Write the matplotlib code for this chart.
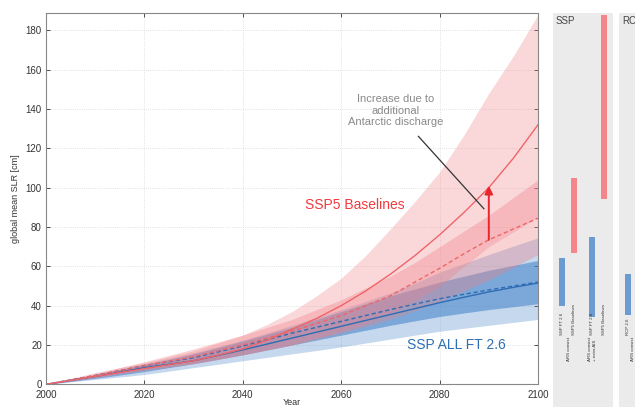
import numpy as np
import matplotlib
matplotlib.use('Agg')
import matplotlib.pyplot as plt

plt.rcParams['font.family'] = ['Liberation Sans', 'DejaVu Sans']

# every 5 years, 2000-2100
years = list(range(2000, 2101, 5))

# SSP5 baselines, with extra Antarctic discharge (solid line + wide band)
ssp5_ais_med = [0, 2, 4, 6, 8, 10, 12, 14.8, 18, 22.5, 28, 33.5, 40, 47.5, 56, 65.5, 76, 87.5, 100, 115, 132]
ssp5_ais_lo = [0, 1.7, 3.5, 5.2, 7, 8.7, 10.5, 12.7, 15, 17.5, 20, 23.5, 27, 31, 36, 42.5, 50, 60, 70, 77.5, 85]
ssp5_ais_hi = [0, 3, 6, 8.5, 11, 14, 17, 21, 25, 30.5, 37, 45, 54, 65.5, 79, 93, 108, 127, 148, 167, 188]
# SSP5 baselines, AR5 consistent (dashed)
ssp5_ars_med = [0, 2.2, 4.5, 7, 9.5, 11.7, 14, 17, 20, 23.5, 27, 31, 35, 40, 45, 52, 59, 66.5, 73.5, 79, 84.5]
ssp5_ars_lo = [0, 1.7, 3.5, 5.5, 7.5, 9, 10.5, 12.7, 15, 17.5, 20, 23, 26, 29.5, 33, 37.5, 42, 47.5, 53, 59.5, 66]
ssp5_ars_hi = [0, 2.7, 5.5, 8.5, 11.5, 14.7, 18, 21.5, 25, 29, 33, 38, 43, 49, 55, 62, 70, 78, 86, 95, 104]
# SSP all FT 2.6, with extra AIS
ft26_ais_med = [0, 2, 4, 6.2, 8.5, 10.2, 12, 14.7, 17.5, 20.5, 23.5, 26.5, 29.5, 32.5, 35.5, 38.5, 41.5, 44.3, 47, 49.3, 51.5]
ft26_ais_lo = [0, 1.2, 2.5, 3.7, 5, 6.7, 8.5, 10.2, 12, 13.7, 15.5, 17.2, 19, 21, 23, 25, 27, 28.5, 30, 31.5, 33]
ft26_ais_hi = [0, 2.5, 5, 7.7, 10.5, 13.2, 16, 19.2, 22.5, 26.2, 30, 34, 38, 42.2, 46.5, 51.5, 57, 61.5, 66, 70.3, 74.5]
# SSP all FT 2.6, AR5 consistent
ft26_ars_med = [0, 2.2, 4.5, 7, 9.5, 11.5, 13.5, 16.5, 19.5, 22.7, 26, 29, 32, 35, 38, 40.8, 43.5, 45.8, 48, 50, 52]
ft26_ars_lo = [0, 1.5, 3, 4.7, 6.5, 8.5, 10.5, 12.7, 15, 17.5, 20, 22.5, 25, 27.5, 30, 32.3, 34.5, 36.3, 38, 39.5, 41]
ft26_ars_hi = [0, 2.5, 5, 7.5, 10, 12.7, 15.5, 18.7, 22, 25.5, 29, 33, 37, 41, 45, 48.5, 52, 55, 58, 60.5, 63]

# 2100 ranges shown as bars in the side panels
ssp_bar_labels = ['SSP FT 2.6', 'SSP5 Baselines', 'SSP FT 2.6', 'SSP5 Baselines']
ssp_bar_lo = [40, 67, 34, 94]
ssp_bar_hi = [64, 105, 75, 188]
rcp_bar_labels = ['RCP 2.6']
rcp_bar_lo = [35]
rcp_bar_hi = [56]

RED = '#f07f85'
BLUE = '#3f7fc8'
W, H = 635, 407
YMAX = 189

fig = plt.figure(figsize=(6.35, 4.07), dpi=100)

ax_l, ax_r, ax_t, ax_b = 46, 538, 12.7, 384.3
ax = fig.add_axes([ax_l / W, (H - ax_b) / H, (ax_r - ax_l) / W, (ax_b - ax_t) / H])

ax.fill_between(years, ft26_ais_lo, ft26_ais_hi, color=BLUE, alpha=0.3, lw=0)
ax.fill_between(years, ft26_ars_lo, ft26_ars_hi, color=BLUE, alpha=0.55, lw=0)
ax.fill_between(years, ssp5_ais_lo, ssp5_ais_hi, color=RED, alpha=0.3, lw=0)
ax.fill_between(years, ssp5_ars_lo, ssp5_ars_hi, color=RED, alpha=0.35, lw=0)

ax.plot(years, ft26_ais_med, color='#2e6db4', lw=1)
ax.plot(years, ft26_ars_med, color='#2e6db4', lw=1, ls=(0, (3, 2)))
ax.plot(years, ssp5_ais_med, color='#f06468', lw=1)
ax.plot(years, ssp5_ars_med, color='#f06468', lw=1, ls=(0, (3, 2)))

ax.set_xlim(2000, 2100)
ax.set_ylim(0, YMAX)
ax.set_xticks(range(2000, 2101, 20))
ax.set_yticks(range(0, 181, 20))
ax.tick_params(direction='in', top=True, right=True, labelsize=7, colors='#333333',
               length=3, width=0.6)
ax.tick_params(axis='x', pad=4)
ax.tick_params(axis='y', pad=3)
ax.grid(True, ls=':', color='#d8d8d8', lw=0.6)
ax.set_axisbelow(True)
for s in ax.spines.values():
    s.set_color('#888888')
    s.set_linewidth(0.8)
ax.set_xlabel('Year', fontsize=6.5, color='#333333', labelpad=-1.5)
ax.set_ylabel('global mean SLR [cm]', fontsize=6.5, color='#333333', labelpad=4)

ax.text(2052.6, 91.3, 'SSP5 Baselines', color='#f03a3e', fontsize=10, va='center', ha='left')
ax.text(2073.4, 20, 'SSP ALL FT 2.6', color='#2e6fb5', fontsize=10, va='center', ha='left')
ax.text(2071.1, 139.2, 'Increase due to\nadditional\nAntarctic discharge', color='#8a8a8a',
        fontsize=8, ha='center', va='center', linespacing=1.15)
ax.plot([2075.7, 2089.0], [126.1, 89.3], color='#333333', lw=0.9)
ax.annotate('', xy=(2090, 101), xytext=(2090, 73.5),
            arrowprops=dict(arrowstyle='-|>', color='#e8262b', lw=1.4, mutation_scale=12,
                            shrinkA=0, shrinkB=0))

# side panels share the y scale of the main axes
pxu = (ax_b - ax_t) / YMAX
pan_bot = 500
ylo = -(pan_bot - ax_b) / pxu


def side_panel(x0, title, xs, lo, hi, colors, labels):
    p = fig.add_axes([x0 / W, (H - pan_bot) / H, 60 / W, (pan_bot - ax_t) / H])
    p.set_facecolor('#ebebeb')
    p.set_xlim(0, 60)
    p.set_ylim(ylo, YMAX)
    for s in p.spines.values():
        s.set_visible(False)
    p.set_xticks([])
    p.set_yticks([])
    p.bar(xs, np.array(hi) - np.array(lo), bottom=lo, width=6, color=colors)
    p.text(3, YMAX - 1.5, title, fontsize=7, color='#444444', va='top', ha='left')
    ylab = (ax_b - 335) / pxu
    for x, lab in zip(xs, labels):
        p.text(x, ylab, lab, rotation=90, fontsize=3.2, ha='center', va='bottom', color='#333333')
    return p


ybl = '#6a9bd1'
pnk = '#f4868b'
p1 = side_panel(552.7, 'SSP', [9.3, 21.3, 39.3, 51.3], ssp_bar_lo, ssp_bar_hi,
                [ybl, pnk, ybl, pnk], ssp_bar_labels)
ygrp = (ax_b - 337) / pxu
p1.text(16, ygrp, 'ARS consist', rotation=90, fontsize=3.2, ha='center', va='top', color='#333333')
p1.text(39.8, ygrp, 'ARS consist\n+ extra AIS', rotation=90, fontsize=3.2, ha='center', va='top',
        color='#333333', multialignment='left')
p2 = side_panel(619, 'RCP', [9], rcp_bar_lo, rcp_bar_hi, [ybl], rcp_bar_labels)
p2.text(14, ygrp, 'ARS consist', rotation=90, fontsize=3.2, ha='center', va='top', color='#333333')

fig.savefig('out.png', dpi=100)
